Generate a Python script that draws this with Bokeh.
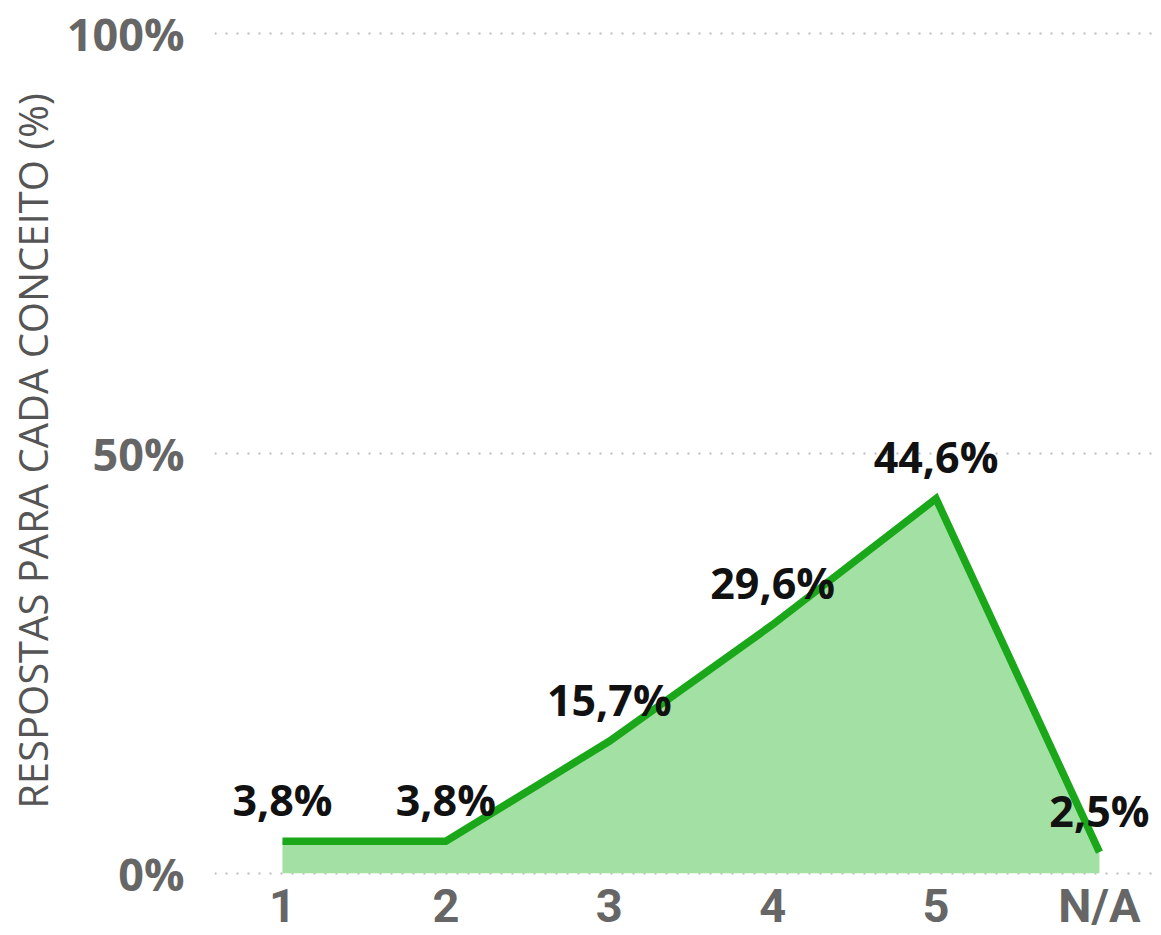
from bokeh.plotting import figure
from bokeh.models import Range1d, FixedTicker, ColumnDataSource, LabelSet
from bokeh.core.properties import value
from bokeh.embed import file_html
from bokeh.resources import INLINE

categories = ["1", "2", "3", "4", "5", "N/A"]
values = [3.8, 3.8, 15.7, 29.6, 44.6, 2.5]
labels = ["3,8%", "3,8%", "15,7%", "29,6%", "44,6%", "2,5%"]
y_ticks = [0, 50, 100]
y_tick_labels = ["0%", "50%", "100%"]

xs = list(range(1, len(categories) + 1))
src = ColumnDataSource(dict(x=xs, y=values, zero=[0] * len(xs), lab=labels))

p = figure(width=1157, height=935, output_backend="svg", toolbar_location=None,
           x_range=Range1d(0.584, 6.337), y_range=Range1d(-0.4, 100.95),
           min_border_left=214, min_border_right=3, min_border_top=25, min_border_bottom=0)
p.outline_line_color = None
p.background_fill_color = "white"

p.varea(x="x", y1="zero", y2="y", source=src, fill_color="#a3e0a3", fill_alpha=1)
p.line(x="x", y="y", source=src, line_color="#1aa81a", line_width=7.5, line_join="miter")

lbl = LabelSet(x="x", y="y", text="lab", source=src, text_align="center",
               text_baseline="middle", y_offset=42, text_font=value("Open Sans"),
               text_font_style="bold", text_font_size="43px", text_color="#111111")
p.add_layout(lbl)

p.xgrid.grid_line_color = None
p.ygrid.ticker = FixedTicker(ticks=y_ticks)
p.ygrid.grid_line_color = "#bbbbbb"
p.ygrid.grid_line_width = 2
p.ygrid.grid_line_dash = "2 9"

p.yaxis.ticker = FixedTicker(ticks=y_ticks)
p.yaxis.major_label_overrides = {t: l for t, l in zip(y_ticks, y_tick_labels)}
p.xaxis.ticker = FixedTicker(ticks=xs)
p.xaxis.major_label_overrides = {x: c for x, c in zip(xs, categories)}

for ax in (p.xaxis, p.yaxis):
    ax.axis_line_color = None
    ax.major_tick_line_color = None
    ax.minor_tick_line_color = None
    ax.major_tick_out = 0
    ax.major_tick_in = 0
    ax.minor_tick_out = 0
    ax.major_label_text_font = "Open Sans"
    ax.major_label_text_font_style = "bold"
    ax.major_label_text_font_size = "45px"
    ax.major_label_text_color = "#666666"

p.xaxis.major_label_text_font = "Roboto"
p.xaxis.major_label_text_font_size = "47px"
p.yaxis.major_label_standoff = 30
p.xaxis.major_label_standoff = 1

p.yaxis.axis_label = "RESPOSTAS PARA CADA CONCEITO (%)"
p.yaxis.axis_label_text_font = "Open Sans"
p.yaxis.axis_label_text_font_style = "normal"
p.yaxis.axis_label_text_font_size = "40px"
p.yaxis.axis_label_text_color = "#555555"
p.yaxis.axis_label_standoff = 4

open("out.html", "w").write(file_html(p, INLINE))
